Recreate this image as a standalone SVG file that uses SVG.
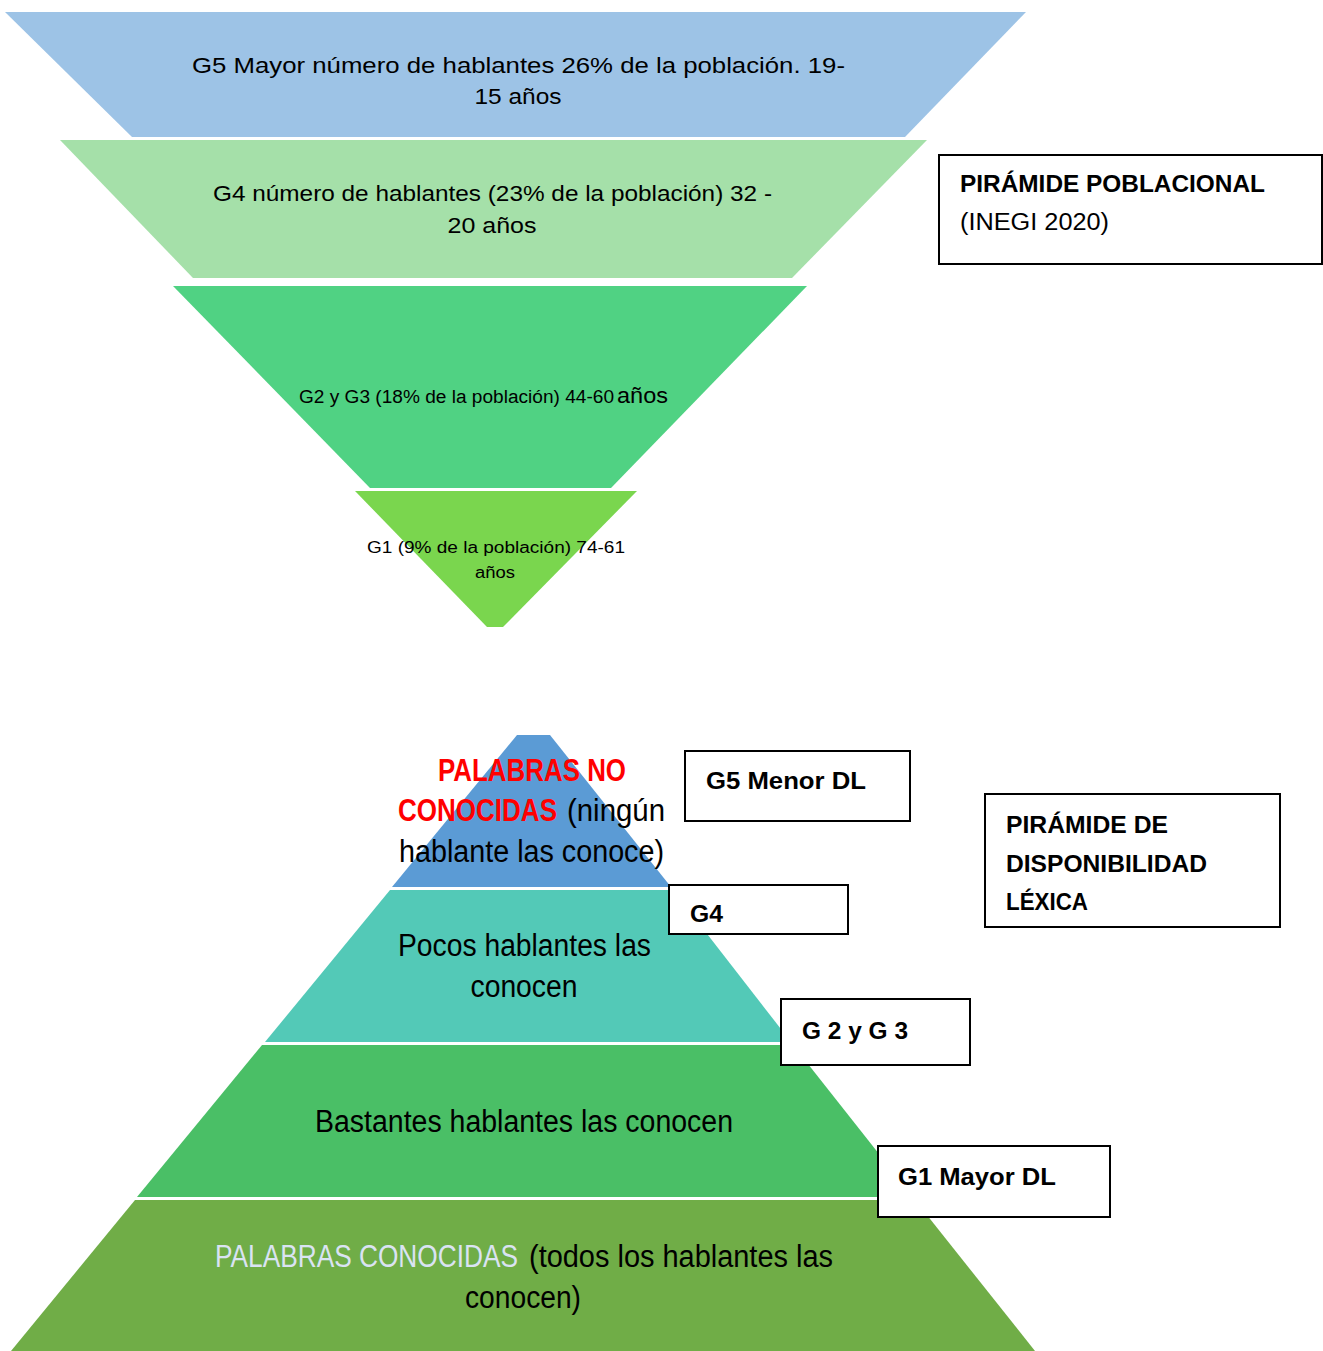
<svg xmlns="http://www.w3.org/2000/svg" width="1323" height="1351" viewBox="0 0 1323 1351">
<style>
text{font-family:"Liberation Sans",Arial,sans-serif;fill:#000}
.t{font-size:22px}
.b{font-weight:bold}
.box{fill:#fff;stroke:#000;stroke-width:2}
.big{font-size:31px}
</style>
<rect width="1323" height="1351" fill="#fff"/>
<g id="top-pyramid">
<g id="g5-pop">
<polygon points="5,12 1026,12 905,137 132,137" fill="#9DC3E6"/>
<text class="t" x="192" y="73" textLength="653" lengthAdjust="spacingAndGlyphs">G5 Mayor número de hablantes 26%  de la población. 19-</text>
<text class="t" x="518" y="104" text-anchor="middle" textLength="87" lengthAdjust="spacingAndGlyphs">15 años</text>
</g>
<g id="g4-pop">
<polygon points="60,140 927,140 792,278 193,278" fill="#A5E0A9"/>
<text class="t" x="213" y="201" textLength="559" lengthAdjust="spacingAndGlyphs">G4  número de hablantes (23% de la población) 32 -</text>
<text class="t" x="492" y="233" text-anchor="middle" textLength="89" lengthAdjust="spacingAndGlyphs">20 años</text>
</g>
<g id="g23-pop">
<polygon points="173,286 807,286 611,488 370,488" fill="#50D283"/>
<text x="299" y="403" style="font-size:18px" textLength="315" lengthAdjust="spacingAndGlyphs">G2 y G3 (18% de la población) 44-60</text>
<text x="617" y="403" style="font-size:22px" textLength="51" lengthAdjust="spacingAndGlyphs">años</text>
</g>
<g id="g1-pop">
<polygon points="355,491 637,491 503,627 487,627" fill="#7AD64E"/>
<text x="367" y="553" style="font-size:16px" textLength="258" lengthAdjust="spacingAndGlyphs">G1 (9% de la población) 74-61</text>
<text x="495" y="578" style="font-size:16px" text-anchor="middle" textLength="40" lengthAdjust="spacingAndGlyphs">años</text>
</g>
</g>
<g id="title-pop">
<rect class="box" x="939" y="155" width="383" height="109"/>
<text class="b" x="960" y="192" style="font-size:23px" textLength="305" lengthAdjust="spacingAndGlyphs">PIRÁMIDE POBLACIONAL</text>
<text x="960" y="230" style="font-size:23px" textLength="149" lengthAdjust="spacingAndGlyphs">(INEGI 2020)</text>
</g>
<g id="bottom-pyramid">
<g id="lvl-unknown">
<polygon points="517,735 550,735 671,887 392,887" fill="#5B9BD5"/>
<text class="big" x="438" y="781" textLength="188" lengthAdjust="spacingAndGlyphs" style="fill:#FF0000;font-weight:bold">PALABRAS NO</text>
<text transform="translate(398 821) scale(1 1.148)" x="0" y="0" textLength="159" lengthAdjust="spacingAndGlyphs" style="font-size:27px;fill:#FF0000;font-weight:bold">CONOCIDAS</text>
<text class="big" x="567" y="821" textLength="98" lengthAdjust="spacingAndGlyphs">(ningún</text>
<text class="big" x="399" y="862" textLength="265" lengthAdjust="spacingAndGlyphs">hablante las conoce)</text>
</g>
<g id="lvl-few">
<polygon points="390,890 673,890 791,1042 265,1042" fill="#53C9B7"/>
<text class="big" x="398" y="956" textLength="253" lengthAdjust="spacingAndGlyphs">Pocos hablantes las</text>
<text class="big" x="524" y="997" text-anchor="middle" textLength="107" lengthAdjust="spacingAndGlyphs">conocen</text>
</g>
<g id="lvl-many">
<polygon points="262,1045 793,1045 913,1197 137,1197" fill="#4ABF66"/>
<text class="big" x="315" y="1132" textLength="418" lengthAdjust="spacingAndGlyphs">Bastantes hablantes las conocen</text>
</g>
<g id="lvl-known">
<polygon points="135,1200 915,1200 1035,1351 11,1351" fill="#70AD47"/>
<text transform="translate(215 1267) scale(1 1.17)" x="0" y="0" textLength="303" lengthAdjust="spacingAndGlyphs" style="font-size:26.5px;fill:#DAE3F3">PALABRAS CONOCIDAS</text>
<text class="big" x="529" y="1267" textLength="304" lengthAdjust="spacingAndGlyphs">(todos los hablantes las</text>
<text class="big" x="523" y="1308" text-anchor="middle" textLength="116" lengthAdjust="spacingAndGlyphs">conocen)</text>
</g>
</g>
<g id="label-g5">
<rect class="box" x="685" y="751" width="225" height="70"/>
<text class="b" x="706" y="789" style="font-size:23px" textLength="160" lengthAdjust="spacingAndGlyphs">G5 Menor DL</text>
</g>
<g id="label-g4">
<rect class="box" x="669" y="885" width="179" height="49"/>
<text class="b" x="690" y="922" style="font-size:23px" textLength="33" lengthAdjust="spacingAndGlyphs">G4</text>
</g>
<g id="label-g23">
<rect class="box" x="781" y="999" width="189" height="66"/>
<text class="b" x="802" y="1039" style="font-size:23px" textLength="106" lengthAdjust="spacingAndGlyphs">G 2 y G 3</text>
</g>
<g id="label-g1">
<rect class="box" x="878" y="1146" width="232" height="71"/>
<text class="b" x="898" y="1185" style="font-size:23px" textLength="158" lengthAdjust="spacingAndGlyphs">G1 Mayor DL</text>
</g>
<g id="title-lex">
<rect class="box" x="985" y="794" width="295" height="133"/>
<text class="b" x="1006" y="833" style="font-size:23px" textLength="162" lengthAdjust="spacingAndGlyphs">PIRÁMIDE DE</text>
<text class="b" x="1006" y="872" style="font-size:23px" textLength="201" lengthAdjust="spacingAndGlyphs">DISPONIBILIDAD</text>
<text class="b" x="1006" y="910" style="font-size:23px" textLength="82" lengthAdjust="spacingAndGlyphs">LÉXICA</text>
</g>
<g id="connectors"/>
</svg>
